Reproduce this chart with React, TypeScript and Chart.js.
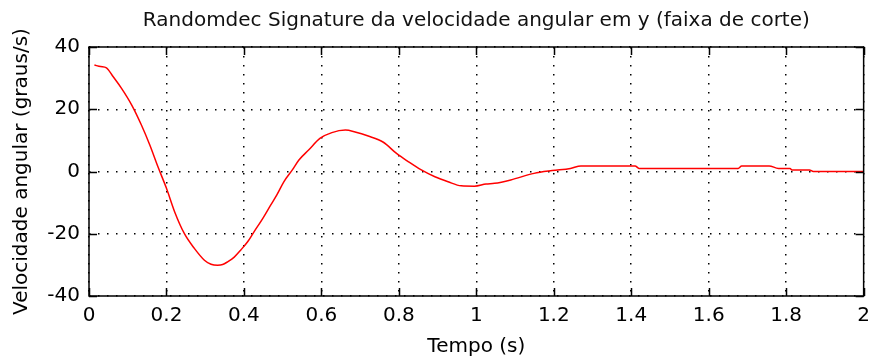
import React, { useEffect, useRef } from "react";
import { Chart, registerables } from "chart.js";

Chart.register(...registerables);

const chartTitle = "Randomdec Signature da velocidade angular em y (faixa de corte)";
const xAxisLabel = "Tempo (s)";
const yAxisLabel = "Velocidade angular (graus/s)";

const timeValues = [
  0.014, 0.03, 0.045, 0.062, 0.084, 0.11, 0.135, 0.157, 0.178, 0.2,
  0.221, 0.246, 0.272, 0.298, 0.315, 0.332, 0.345, 0.358, 0.375, 0.392,
  0.41, 0.426, 0.45, 0.469, 0.485, 0.503, 0.525, 0.542, 0.567, 0.597,
  0.627, 0.662, 0.687, 0.721, 0.76, 0.794, 0.824, 0.858, 0.893, 0.927,
  0.961, 0.995, 1.025, 1.047, 1.089, 1.149, 1.196, 1.243, 1.27, 1.41,
  1.42, 1.676, 1.685, 1.756, 1.78, 1.81, 1.815, 1.86, 1.87, 2.0,
];

const velocityValues = [
  34.2, 33.7, 33.3, 30.5, 26.7, 21.4, 15, 8.5, 1.5, -5.4,
  -12.9, -19.9, -24.7, -28.5, -29.8, -30.1, -29.9, -29, -27.5, -25.2,
  -22.5, -19.4, -14.8, -10.8, -7.5, -3.3, 0.5, 3.7, 6.9, 10.7,
  12.5, 13.3, 12.7, 11.4, 9.4, 5.8, 3.2, 0.5, -1.7, -3.3,
  -4.6, -4.7, -4.0, -3.8, -2.7, -0.6, 0.3, 1.0, 1.8, 1.8,
  1.0, 1.0, 1.8, 1.8, 1.0, 1.0, 0.5, 0.5, 0, 0,
];

const xMin = 0;
const xMax = 2;
const xStep = 0.2;
const yMin = -40;
const yMax = 40;
const yStep = 20;

const FONT = "'DejaVu Sans', sans-serif";

const framePlugin = {
  id: "matlabFrame",
  afterDraw(chart: any) {
    const { ctx, chartArea } = chart;
    const { left, right, top, bottom } = chartArea;
    const xs = chart.scales.x;
    const ys = chart.scales.y;
    const tickLen = 8;
    ctx.save();
    ctx.setLineDash([]);
    ctx.strokeStyle = "#000";
    ctx.lineWidth = 1.5;
    ctx.strokeRect(left, top, right - left, bottom - top);
    ctx.beginPath();
    xs.ticks.forEach((t: any) => {
      const px = Math.round(xs.getPixelForValue(t.value)) + 0.5;
      ctx.moveTo(px, bottom);
      ctx.lineTo(px, bottom - tickLen);
      ctx.moveTo(px, top);
      ctx.lineTo(px, top + tickLen);
    });
    ys.ticks.forEach((t: any) => {
      const py = Math.round(ys.getPixelForValue(t.value)) + 0.5;
      ctx.moveTo(left, py);
      ctx.lineTo(left + tickLen, py);
      ctx.moveTo(right, py);
      ctx.lineTo(right - tickLen, py);
    });
    ctx.stroke();
    ctx.restore();
  },
};

export default function App() {
  const canvasRef = useRef<HTMLCanvasElement | null>(null);

  useEffect(() => {
    if (!canvasRef.current) return;
    const points = timeValues.map((t, i) => ({ x: t, y: velocityValues[i] }));
    const chart = new Chart(canvasRef.current, {
      type: "line",
      data: {
        datasets: [
          {
            data: points,
            borderColor: "#ff0000",
            borderWidth: 1.5,
            pointRadius: 0,
            fill: false,
            cubicInterpolationMode: "monotone",
          },
        ],
      },
      options: {
        animation: false,
        responsive: true,
        maintainAspectRatio: false,
        layout: { padding: { left: 0, right: 10, top: 0, bottom: 0 } },
        plugins: {
          legend: { display: false },
          tooltip: { enabled: false },
          title: {
            display: true,
            text: chartTitle,
            fullSize: false,
            color: "#111",
            font: { family: FONT, size: 20, weight: "normal" },
            padding: { top: 9, bottom: 14 },
          },
        },
        scales: {
          x: {
            type: "linear",
            min: xMin,
            max: xMax,
            afterFit: (scale: any) => {
              scale.height = 68;
            },
            ticks: {
              stepSize: xStep,
              autoSkip: false,
              maxRotation: 0,
              padding: 8,
              color: "#000",
              font: { family: FONT, size: 20 },
              callback: (v: any) => String(Math.round(Number(v) * 10) / 10),
            },
            grid: {
              color: "#000",
              lineWidth: 1.5,
              drawTicks: false,
            },
            border: { display: false, dash: [1.5, 7.5] },
            title: {
              display: true,
              text: xAxisLabel,
              color: "#000",
              font: { family: FONT, size: 20 },
              padding: { top: 0, bottom: 5 },
            },
          },
          y: {
            type: "linear",
            min: yMin,
            max: yMax,
            afterFit: (scale: any) => {
              scale.width = 89;
            },
            ticks: {
              stepSize: yStep,
              padding: 9,
              color: "#000",
              font: { family: FONT, size: 20 },
            },
            grid: {
              color: "#000",
              lineWidth: 1.5,
              drawTicks: false,
            },
            border: { display: false, dash: [1.5, 7.5] },
            title: {
              display: true,
              text: yAxisLabel,
              color: "#000",
              font: { family: FONT, size: 20 },
              padding: { top: 10, bottom: 0 },
            },
          },
        },
      },
      plugins: [framePlugin],
    });
    return () => chart.destroy();
  }, []);

  return (
    <div
      style={{
        position: "fixed",
        left: 0,
        top: 0,
        width: 878,
        height: 364,
        background: "#fff",
      }}
    >
      <canvas ref={canvasRef} />
    </div>
  );
}
